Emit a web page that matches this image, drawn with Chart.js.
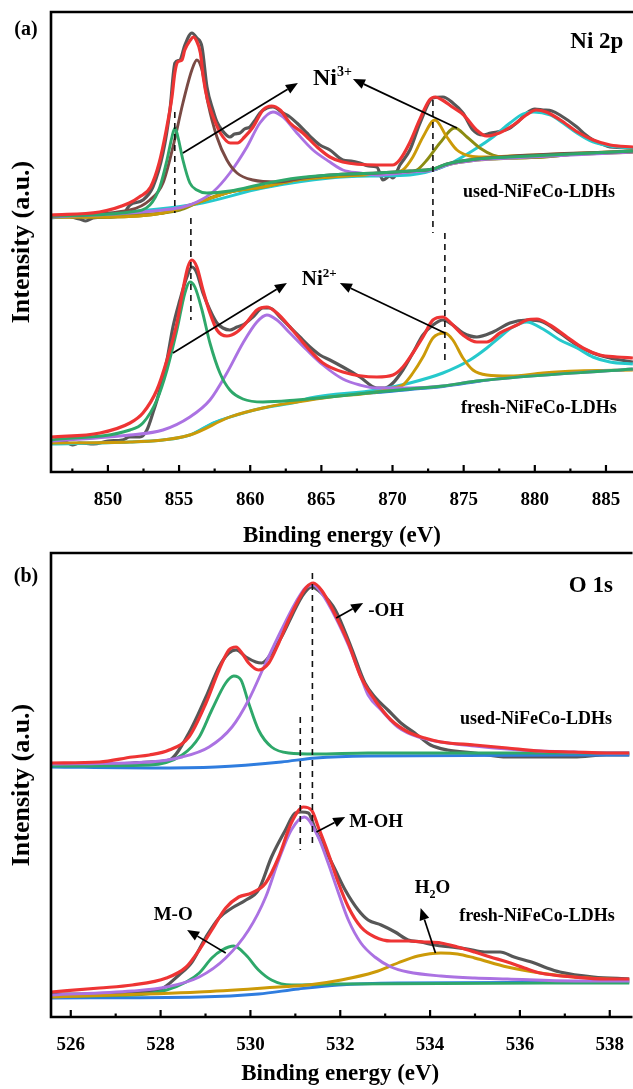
<!DOCTYPE html>
<html><head><meta charset="utf-8">
<script src="https://cdn.jsdelivr.net/npm/chart.js@4.4.1/dist/chart.umd.min.js"></script>
<style>
html,body{margin:0;padding:0;background:#fff;overflow:hidden;width:633px;height:1089px;}
#wrap{position:relative;width:633px;height:1089px;background:#fff;}
canvas{position:absolute;left:0;}
#ca{top:0;} #cb{top:540px;}
</style></head><body>
<div id="wrap"><canvas id="ca" width="633" height="560"></canvas><canvas id="cb" width="633" height="549"></canvas></div>
<script>
const FONT = '"Liberation Serif","Times New Roman",serif';

// ================= Panel (a): Ni 2p =================
const niRange = [846, 886.9];
const niTickStep = 5;
const niMinorStep = 2.5;
const niYRange = [0, 460];

// used-NiFeCo-LDHs (upper)
const usedNiRaw = [[846,255],[847,256],[848,253],[848.45,251],[848.95,254],[850,255],[851,257],[851.55,267],[852.46,272],[853.16,285],[853.87,319],[854.36,362],[854.71,409],[855.06,412],[855.41,427],[855.9,439],[856.25,434],[856.61,425],[856.96,385],[857.38,362],[857.66,350],[858.01,342],[858.57,335],[858.9,338],[859.28,339],[859.6,343],[859.98,345],[860.3,351],[860.68,359],[861.17,364],[861.6,365],[862.3,359],[862.7,356],[863.28,349],[863.98,339],[864.4,333],[864.9,327],[865.6,322],[866.51,312],[867.1,311],[867.71,309],[868.3,306],[868.9,305],[869.33,292],[869.82,296],[870.03,294],[870.52,307],[871.22,322],[871.93,349],[872.84,374],[873.54,375],[874.24,369],[874.95,359],[875.65,342],[876.35,337],[876.9,339],[877.34,340],[878.25,344],[878.8,350],[879.44,359],[880.0,363],[880.57,362],[881.2,361],[881.76,357],[882.96,345],[883.5,338],[884.08,332],[884.7,328],[885.28,325],[886.89,324]];
const usedNiFit = [[846,257],[849.4,260],[851.5,269],[852.2,275],[853,285],[853.6,309],[854.1,342],[854.5,375],[854.7,399],[854.9,410],[855.2,412],[855.4,422],[855.8,432],[856,435],[856.2,432],[856.5,419],[856.7,395],[857,372],[857.4,355],[857.9,339],[858.6,329],[859.1,329],[859.6,335],[860.2,345],[860.9,362],[861.5,366],[862.1,362],[862.8,349],[863.7,339],[864.7,325],[865.6,315],[866.5,310],[868.9,307],[870,307],[870.5,312],[871.2,329],[871.9,352],[872.6,372],[873,375],[873.5,372],[874.2,365],[875,357],[875.9,342],[876.6,336],[877.5,339],[878.5,347],[879.4,357],[880.1,362],[880.8,360],[881.8,352],[883,340],[884.1,332],[885.3,327],[886.9,325]];
const usedNiBg = [[846,255],[850,255],[851.55,257],[853.87,259],[855.06,262],[856.25,269],[857.38,275],[858.57,280],[860.89,285],[863.28,292],[865.6,295],[868.9,298],[871.22,300],[872.84,302],[873.82,307],[875.93,312],[878.25,314],[880.57,315],[882.96,318],[885.28,319],[886.89,320]];
const usedNiP854 = [[846,256],[851.55,260],[852.95,267],[853.65,285],[854.15,312],[854.5,335],[854.71,344],[854.92,335],[855.27,312],[855.76,289],[856.25,282],[856.96,279],[858.57,281],[860.89,288],[863.28,294],[865.6,297],[868.9,299],[871.22,301],[872.84,303],[873.82,308],[875.93,313],[878.25,315],[886.89,321]];
const usedNiP856 = [[846,256],[851.55,262],[852.95,272],[853.87,289],[854.57,325],[855.27,369],[855.9,402],[856.25,412],[856.61,402],[857.03,369],[857.66,335],[858.36,312],[859.07,299],[860.19,292],[861.88,290],[863.7,294],[865.6,297],[868.9,299],[871.22,301],[872.84,303],[873.82,308],[875.93,313],[886.89,321]];
const usedNiP861 = [[846,255],[851.55,259],[853.87,262],[855.27,265],[856.25,270],[857.38,280],[858.57,299],[859.77,325],[860.68,349],[861.6,360],[862.3,355],[863.28,339],[864.41,322],[865.6,310],[866.51,302],[867.71,299],[868.9,297],[871.22,300],[872.84,302],[873.82,307],[875.93,312],[878.25,314],[886.89,320]];
const usedNiP873 = [[846,255],[850,255],[853.87,259],[856.25,269],[858.57,280],[860.89,285],[863.28,292],[865.6,295],[868.9,298],[870.03,299],[870.73,302],[871.43,315],[872.14,335],[872.98,352],[873.82,335],[874.53,322],[875.44,316],[876.35,315],[878.25,316],[886.89,321]];
const usedNiP874 = [[846,255],[850,255],[853.87,259],[856.25,269],[858.57,280],[860.89,285],[863.28,292],[865.6,295],[868.9,298],[871,300],[871.71,302],[872.42,312],[873.33,329],[874.38,344],[875.23,335],[876.14,324],[877.06,317],[878.25,314],[880.57,315],[882.96,318],[886.89,320]];
const usedNiP880 = [[846,254],[856.25,268],[860.89,284],[865.6,294],[868.9,296],[871.22,297],[873.54,305],[875.93,324],[877.06,335],[878.25,349],[879.16,358],[879.94,360],[881.06,357],[881.98,349],[882.96,339],[884.08,330],[885.28,326],[886.89,324]];

// fresh-NiFeCo-LDHs (lower)
const freshNiRaw = [[846,29],[847,30],[847.5,27],[848,29],[849,28],[850,31],[851,32],[851.55,35],[852.25,35],[852.74,42],[853.16,59],[853.65,82],[854.15,112],[854.57,145],[855.06,172],[855.55,195],[855.9,205],[856.25,199],[856.68,179],[857.17,162],[857.66,149],[858.08,144],[858.57,142],[859.07,145],[859.49,147],[860.19,155],[860.89,164],[861.38,164],[862.09,155],[862.79,145],[863.49,135],[864.2,125],[864.9,117],[865.6,112],[866.51,105],[867.71,95],[868.9,84],[869.47,84],[870.03,89],[870.73,102],[871.43,119],[872.14,137],[872.84,147],[873.54,152],[874.24,147],[874.95,139],[875.93,135],[877.06,140],[878.25,149],[879.44,152],[880.57,150],[881.76,139],[882.96,127],[884.08,119],[885.28,114],[886.89,110]];
const freshNiFit = [[846,35],[849.44,39],[851.55,49],[852.46,59],[853.44,82],[854.15,112],[854.85,149],[855.27,182],[855.62,205],[855.9,212],[856.25,205],[856.68,182],[857.17,159],[857.66,142],[858.36,136],[859.07,140],[859.77,150],[860.47,162],[861.17,165],[861.88,159],[862.79,145],[863.98,125],[865.11,109],[866.51,100],[868.9,95],[870.03,97],[870.73,105],[871.43,119],[872.14,135],[872.84,152],[873.54,155],[874.24,147],[874.95,137],[875.93,130],[876.63,130],[877.55,139],[878.74,147],[879.44,152],[880.15,153],[881.06,147],[882.26,135],[883.38,124],[884.57,117],[885.77,115],[886.89,114]];
const freshNiBg = [[846,29],[851.55,30],[853.87,32],[855.76,37],[857.38,49],[858.57,55],[860.89,64],[863.28,70],[865.6,75],[866.51,77],[868.9,79],[871.22,82],[873.54,85],[875.93,90],[878.25,95],[880.57,98],[882.96,100],[885.28,102],[886.89,102]];
const freshNiP856 = [[846,32],[851.55,42],[852.46,49],[853.44,72],[854.15,102],[854.85,142],[855.41,179],[855.76,190],[856.11,185],[856.61,162],[857.17,129],[857.87,99],[858.57,82],[859.49,73],[860.89,70],[863.28,72],[865.6,75],[868.9,80],[871.22,83],[873.54,86],[875.93,91],[886.89,103]];
const freshNiP861 = [[846,31],[851.55,37],[853.87,42],[855.76,55],[857.17,72],[858.36,99],[859.49,129],[860.47,150],[861.17,157],[861.88,152],[862.79,139],[863.98,122],[865.11,107],[866.51,93],[867.71,87],[868.9,84],[871.22,84],[873.54,86],[875.93,91],[886.89,103]];
const freshNiP874 = [[846,29],[851.55,30],[855.76,37],[858.57,55],[860.89,64],[863.28,70],[865.6,75],[868.9,80],[870.03,84],[870.73,87],[871.43,99],[872.14,115],[872.84,134],[873.68,139],[874.24,132],[874.95,114],[875.65,102],[876.63,97],[878.25,96],[880.57,99],[882.96,101],[886.89,102]];
const freshNiP880 = [[846,28],[851.55,30],[853.87,32],[855.76,37],[857.38,49],[858.57,55],[860.89,64],[863.28,70],[864.2,74],[868.9,82],[871.22,89],[873.54,99],[875.44,112],[876.63,124],[877.55,135],[878.46,145],[879.44,150],[880.57,143],[881.76,132],[882.96,124],[884.08,115],[885.28,110],[886.89,108]];

// dashed guide lines [E, I from, I to] and arrows [E0, I0, E1, I1]
const niDashes = [[854.7,360,259],[855.83,254,152],[872.84,372,239],[873.68,239,109]];
const niArrows = [[855.27,319,863.35,389],[874.53,344,867.22,393],[854.57,119,862.58,189],[873.68,139,866.3,189]];

// ================= Panel (b): O 1s =================
const oRange = [525.56, 538.44];
const oTickStep = 2;
const oMinorStep = 1;
const oYRange = [0, 464];

const usedORaw = [[525.56,251],[526.64,252],[527.37,254],[527.75,255],[528.19,257],[528.63,284],[529.01,320],[529.3,350],[529.52,364],[529.68,367],[529.9,360],[530.12,355],[530.25,354],[530.47,364],[530.69,380],[530.91,400],[531.14,420],[531.36,430],[531.58,424],[531.89,407],[532.24,370],[532.55,334],[532.77,320],[533.06,307],[533.35,294],[533.66,284],[534.01,272],[534.39,267],[534.99,264],[535.72,260],[536.45,260],[537.2,260],[537.93,262],[538.44,262]];
const usedOFit = [[525.56,254],[526.64,255],[527.37,260],[527.75,262],[528.19,267],[528.63,280],[529.01,314],[529.3,347],[529.52,367],[529.68,370],[529.81,364],[529.96,354],[530.18,347],[530.41,354],[530.63,374],[530.85,397],[531.07,417],[531.25,430],[531.4,434],[531.58,427],[531.8,410],[532.18,374],[532.46,340],[532.77,317],[533.13,297],[533.51,285],[533.88,279],[534.24,275],[534.99,272],[535.72,269],[536.45,266],[537.2,265],[537.93,264],[538.44,264]];
const usedOBg = [[525.56,250],[527.75,249],[529.23,250],[530.69,255],[531.45,259],[532.62,261],[538.44,262]];
const usedOP529 = [[525.56,251],[527.75,252],[528.48,262],[528.86,280],[529.14,307],[529.45,334],[529.63,341],[529.79,337],[529.96,314],[530.18,287],[530.47,270],[530.85,264],[531.45,263],[532.62,264],[538.44,264]];
const usedOP531 = [[525.56,253],[527.75,255],[528.48,260],[529.08,270],[529.59,290],[529.96,317],[530.34,354],[530.69,387],[531,414],[531.22,429],[531.4,432],[531.58,424],[531.89,400],[532.18,372],[532.46,340],[532.62,322],[532.91,307],[533.28,290],[533.73,280],[534.24,275],[534.99,271],[535.72,268],[536.45,266],[537.2,265],[537.93,264],[538.44,264]];

const freshORaw = [[525.56,23],[526.64,23],[527.37,24],[527.97,27],[528.41,42],[528.7,55],[529.01,80],[529.3,99],[529.59,109],[529.9,117],[530.18,127],[530.47,160],[530.78,187],[531,204],[531.14,205],[531.29,204],[531.45,187],[531.67,167],[531.89,147],[532.11,127],[532.4,107],[532.62,97],[532.91,92],[533.22,85],[533.51,77],[533.79,75],[534.1,72],[534.46,70],[534.83,68],[535.21,65],[535.56,65],[535.87,60],[536.32,54],[536.6,49],[536.89,45],[537.64,40],[538.44,38]];
const freshOFit = [[525.56,25],[526.64,29],[527.37,32],[528.13,39],[528.57,50],[528.86,67],[529.14,87],[529.45,109],[529.74,120],[530.03,124],[530.34,134],[530.63,160],[530.91,194],[531.18,210],[531.36,207],[531.51,190],[531.73,164],[531.96,134],[532.18,110],[532.46,90],[532.77,80],[533.13,76],[533.51,76],[533.88,75],[534.24,74],[534.61,70],[534.99,65],[535.34,60],[535.72,55],[536.1,49],[536.45,44],[537.2,40],[537.93,38],[538.44,38]];
const freshOBg = [[525.56,19],[528.86,20],[530.18,23],[531.07,28],[531.96,32],[533.28,34],[538.44,35]];
const freshOP529 = [[525.56,21],[527.37,22],[528.13,27],[528.57,35],[528.86,44],[529.14,59],[529.37,67],[529.63,71],[529.9,62],[530.18,47],[530.47,37],[530.91,32],[531.96,33],[538.44,34]];
const freshOP531 = [[525.56,22],[527.37,26],[528.13,30],[528.86,40],[529.45,59],[529.96,87],[530.34,120],[530.63,157],[530.91,187],[531.2,200],[531.51,180],[531.73,154],[531.96,124],[532.18,97],[532.46,74],[532.77,60],[533.13,50],[533.51,45],[534.24,41],[534.99,39],[535.72,38],[537.2,36],[538.44,36]];
const freshOP534 = [[525.56,20],[528.86,25],[530.63,30],[531.29,32],[532.02,37],[532.77,45],[533.28,54],[533.73,61],[534.24,64],[534.61,63],[534.99,59],[535.72,50],[536.45,44],[537.2,40],[537.93,38],[538.44,37]];

const oDashes = [[531.38,444,172],[531.11,300,167]];
const oArrows = [[531.91,399,532.51,414],[531.47,185,532.11,200],[534.12,64,533.79,109],[529.45,64,528.59,87]];

// ================= colours =================
const C = {raw:'#575757', fit:'#ee3434', green:'#2ea86a', brown:'#7a4a44', purple:'#ab72e2', olive:'#8c8c12', gold:'#cc9a08', cyan:'#26c9cc', blue:'#2f7ddf'};

// ================= plugin =================
const framePlugin = {
  id: 'frame',
  afterDatasetsDraw(chart, args, o) {
    const {ctx, chartArea: a} = chart;
    const x = chart.scales.x, y = chart.scales.y;
    ctx.save();
    // arrows
    ctx.strokeStyle = '#000'; ctx.fillStyle = '#000'; ctx.lineWidth = 1.7;
    (o.arrows || []).forEach(ar => {
      const x0 = x.getPixelForValue(ar[0]), y0 = y.getPixelForValue(ar[1]);
      const x1 = x.getPixelForValue(ar[2]), y1 = y.getPixelForValue(ar[3]);
      const ang = Math.atan2(y1 - y0, x1 - x0), L = 12, W = 5;
      const bx = x1 - L * Math.cos(ang), by = y1 - L * Math.sin(ang);
      ctx.beginPath(); ctx.moveTo(x0, y0); ctx.lineTo(bx, by); ctx.stroke();
      ctx.beginPath(); ctx.moveTo(x1, y1);
      ctx.lineTo(bx + W * Math.sin(ang), by - W * Math.cos(ang));
      ctx.lineTo(bx - W * Math.sin(ang), by + W * Math.cos(ang));
      ctx.closePath(); ctx.fill();
    });
    // labels
    (o.labels || []).forEach(lb => {
      let px = x.getPixelForValue(lb.x), py = y.getPixelForValue(lb.y);
      let total = 0;
      lb.parts.forEach(p => { ctx.font = 'bold ' + p[1] + 'px ' + FONT; total += ctx.measureText(p[0]).width; });
      if (lb.align === 'center') px -= total / 2;
      ctx.textAlign = 'left';
      ctx.textBaseline = lb.baseline || 'middle';
      lb.parts.forEach(p => {
        ctx.font = 'bold ' + p[1] + 'px ' + FONT;
        ctx.fillText(p[0], px, py + (p[2] || 0));
        px += ctx.measureText(p[0]).width;
      });
    });
    // frame
    ctx.lineWidth = 2.6; ctx.strokeStyle = '#000';
    ctx.beginPath();
    ctx.moveTo(a.right + 3, a.top); ctx.lineTo(a.left, a.top);
    ctx.lineTo(a.left, a.bottom); ctx.lineTo(a.right + 3, a.bottom);
    ctx.stroke();
    // inward ticks
    ctx.lineWidth = 2.2;
    const majors = x.ticks.map(t => t.value);
    majors.forEach(v => {
      const p = x.getPixelForValue(v);
      ctx.beginPath(); ctx.moveTo(p, a.bottom); ctx.lineTo(p, a.bottom - 7); ctx.stroke();
    });
    for (let v = majors[0] - o.minorStep; v <= x.max; v += o.minorStep) {
      if (v < x.min) continue;
      if (majors.some(m => Math.abs(m - v) < 1e-6)) continue;
      const p = x.getPixelForValue(v);
      ctx.beginPath(); ctx.moveTo(p, a.bottom); ctx.lineTo(p, a.bottom - 3.5); ctx.stroke();
    }
    // panel tag
    ctx.font = 'bold 20px ' + FONT;
    ctx.textAlign = 'center'; ctx.textBaseline = 'middle';
    ctx.fillText(o.tag, 26, o.tagY);
    ctx.restore();
  }
};

function line(data, color, w) {
  return {data, borderColor: color, borderWidth: w, pointRadius: 0, fill: false,
          cubicInterpolationMode: 'monotone'};
}
function dash(d) {
  return {data: [[d[0], d[1]], [d[0], d[2]]], borderColor: '#111', borderWidth: 1.6,
          borderDash: [6, 5], pointRadius: 0, fill: false, tension: 0};
}

function buildPanel(canvasId, p) {
  const datasets = [];
  p.dashes.forEach(d => datasets.push(dash(d)));
  p.series.forEach(s => datasets.push(line(s[0], s[1], s[2])));
  return new Chart(document.getElementById(canvasId), {
    type: 'line',
    data: {datasets},
    options: {
      responsive: false, animation: false, devicePixelRatio: 1,
      layout: {padding: {top: p.padTop, left: 0, right: 0, bottom: 0}},
      plugins: {legend: {display: false}, tooltip: {enabled: false},
                frame: {arrows: p.arrows, labels: p.labels, minorStep: p.minorStep, tag: p.tag, tagY: p.tagY}},
      scales: {
        x: {type: 'linear', min: p.range[0], max: p.range[1],
            grid: {display: false}, border: {display: false},
            afterFit: s => { s.height = p.xHeight; },
            ticks: {stepSize: p.step, includeBounds: false, autoSkip: false, maxRotation: 0,
                    color: '#000', padding: 9, font: {family: FONT, size: 19, weight: 'bold'}},
            title: {display: true, text: 'Binding energy (eV)', color: '#000',
                    padding: {top: 0, bottom: p.titlePad},
                    font: {family: FONT, size: 23, weight: 'bold'}}},
        y: {type: 'linear', min: p.yRange[0], max: p.yRange[1],
            grid: {display: false}, border: {display: false},
            ticks: {display: false},
            afterFit: s => { s.width = 51; },
            title: {display: true, text: 'Intensity (a.u.)', color: '#000',
                    padding: {top: 7, bottom: 0},
                    font: {family: FONT, size: 26, weight: 'bold'}}}
      }
    },
    plugins: [framePlugin]
  });
}

buildPanel('ca', {
  range: niRange, step: niTickStep, minorStep: niMinorStep, yRange: niYRange,
  padTop: 12, xHeight: 88, titlePad: 10, tag: '(a)', tagY: 30,
  dashes: niDashes, arrows: niArrows,
  series: [
    [usedNiFit, C.fit, 3.2], [usedNiP854, C.green, 2.9], [usedNiP856, C.brown, 2.9], [usedNiP861, C.purple, 2.9],
    [usedNiP873, C.gold, 2.9], [usedNiP874, C.olive, 2.9], [usedNiP880, C.cyan, 2.9], [usedNiBg, C.olive, 3.2], [usedNiRaw, C.raw, 3.2],
    [freshNiFit, C.fit, 3.2], [freshNiP856, C.green, 2.9], [freshNiP861, C.purple, 2.9], [freshNiP874, C.gold, 2.9],
    [freshNiP880, C.cyan, 3], [freshNiBg, C.blue, 2], [freshNiRaw, C.raw, 3.2]
  ],
  labels: [
    {parts: [['Ni 2p', 23]], x: 884.36, y: 430, align: 'center'},
    {parts: [['Ni', 24], ['3+', 14, -9]], x: 864.41, y: 387, align: 'left', baseline: 'alphabetic'},
    {parts: [['Ni', 21], ['2+', 13, -8]], x: 863.63, y: 187, align: 'left', baseline: 'alphabetic'},
    {parts: [['used-NiFeCo-LDHs', 18]], x: 880.29, y: 280, align: 'center'},
    {parts: [['fresh-NiFeCo-LDHs', 18]], x: 880.29, y: 64, align: 'center'}
  ]
});

buildPanel('cb', {
  range: oRange, step: oTickStep, minorStep: oMinorStep, yRange: oYRange,
  padTop: 13, xHeight: 72, titlePad: 1, tag: '(b)', tagY: 37,
  dashes: oDashes, arrows: oArrows,
  series: [
    [usedOFit, C.fit, 3.2], [usedOP531, C.purple, 2.9], [usedOP529, C.green, 2.9], [usedOBg, C.blue, 2.9], [usedORaw, C.raw, 3.2],
    [freshOFit, C.fit, 3.2], [freshOP531, C.purple, 2.9], [freshOP534, C.gold, 2.9], [freshOP529, C.green, 2.9], [freshOBg, C.blue, 2.9], [freshORaw, C.raw, 3.2]
  ],
  labels: [
    {parts: [['O 1s', 23]], x: 537.58, y: 431, align: 'center'},
    {parts: [['-OH', 19]], x: 533.02, y: 406, align: 'center'},
    {parts: [['used-NiFeCo-LDHs', 18]], x: 536.36, y: 298, align: 'center'},
    {parts: [['M-OH', 19]], x: 532.8, y: 195, align: 'center'},
    {parts: [['H', 19], ['2', 12, 5], ['O', 19]], x: 533.66, y: 124, align: 'left', baseline: 'alphabetic'},
    {parts: [['fresh-NiFeCo-LDHs', 18]], x: 536.38, y: 101, align: 'center'},
    {parts: [['M-O', 19]], x: 528.28, y: 102, align: 'center'}
  ]
});
</script>
</body></html>
